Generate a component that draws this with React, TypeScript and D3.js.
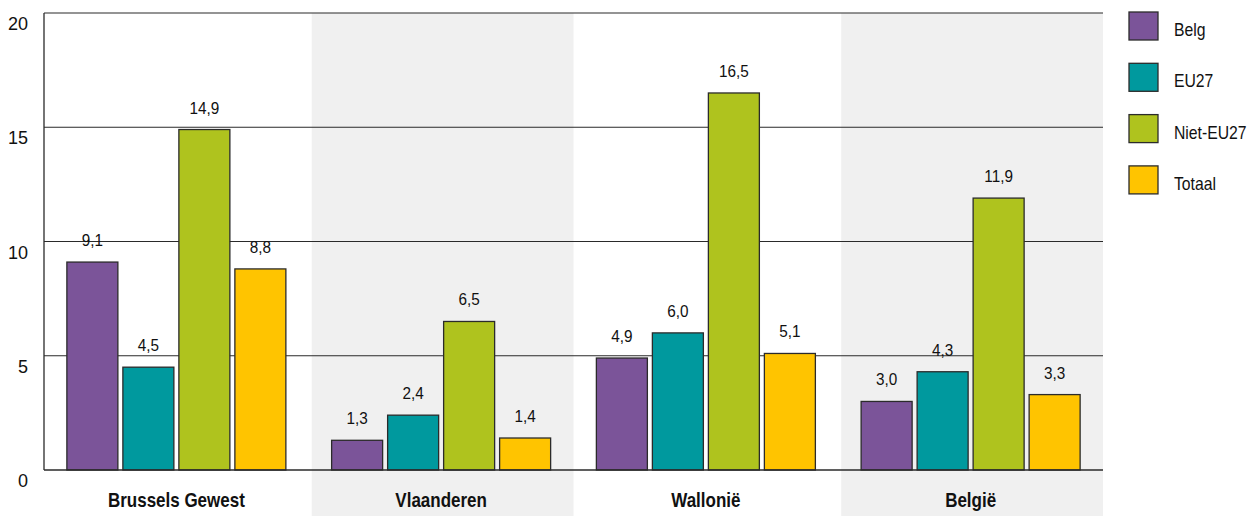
import React from "react";
import * as d3 from "d3";

const categories = ["Brussels Gewest", "Vlaanderen", "Wallonië", "België"];
const seriesNames = ["Belg", "EU27", "Niet-EU27", "Totaal"];
const belg = [9.1, 1.3, 4.9, 3.0];
const eu27 = [4.5, 2.4, 6.0, 4.3];
const nietEu27 = [14.9, 6.5, 16.5, 11.9];
const totaal = [8.8, 1.4, 5.1, 3.3];
const yTicks = [0, 5, 10, 15, 20];
const colors = ["#7B5499", "#00999E", "#AFC31E", "#FFC400"];

const seriesValues = [belg, eu27, nietEu27, totaal];

const W = 1254;
const H = 516;
const left = 44;
const right = 1103;
const top = 13;
const bottom = 470;

const FONT = "'Liberation Sans', Arial, sans-serif";

export default function App() {
  const x0 = d3.scaleBand<string>().domain(categories).range([left, right]).paddingInner(0).paddingOuter(0);
  const x1 = d3
    .scaleBand<string>()
    .domain(seriesNames)
    .range([0, x0.bandwidth()])
    .paddingInner(5 / 56)
    .paddingOuter(0.4085);
  const y = d3.scaleLinear().domain([0, 20]).range([bottom, top]);
  const fmt = (v: number) => d3.format(".1f")(v).replace(".", ",");

  return (
    <svg
      width={W}
      height={H}
      style={{ position: "absolute", left: 0, top: 0, background: "#fff" }}
    >
      {/* shaded bands */}
      {categories.map((c, i) =>
        i % 2 === 1 ? (
          <rect
            key={"band" + c}
            x={(x0(c) as number) + 3}
            y={top}
            width={x0.bandwidth() - 3}
            height={H - top}
            fill="#F0F0F0"
          />
        ) : null
      )}
      {/* gridlines */}
      {yTicks
        .filter((t) => t > 0)
        .map((t) => (
          <line key={"g" + t} x1={left} x2={right} y1={y(t)} y2={y(t)} stroke="#2a2a2a" strokeWidth={1.2} />
        ))}
      {/* y tick labels */}
      {yTicks.map((t) => (
        <text
          key={"yt" + t}
          x={28}
          y={y(t) + 17}
          textAnchor="end"
          fontFamily={FONT}
          fontSize={18}
          fill="#111"
        >
          {t}
        </text>
      ))}
      {/* bars */}
      {categories.map((c, ci) => (
        <g key={"grp" + c} transform={`translate(${x0(c)},0)`}>
          {seriesNames.map((s, si) => {
            const v = seriesValues[si][ci];
            const bx = x1(s) as number;
            return (
              <g key={s}>
                <rect
                  x={bx}
                  y={y(v)}
                  width={x1.bandwidth()}
                  height={bottom - y(v)}
                  fill={colors[si]}
                  stroke="#2b2b2b"
                  strokeWidth={1.3}
                />
                <g transform={`translate(${bx + x1.bandwidth() / 2},${y(v) - 16}) scale(0.9,1)`}>
                  <text textAnchor="middle" fontFamily={FONT} fontSize={17} fill="#111">
                    {fmt(v)}
                  </text>
                </g>
              </g>
            );
          })}
        </g>
      ))}
      {/* axes */}
      <line x1={left} x2={left} y1={top} y2={bottom} stroke="#2a2a2a" strokeWidth={1.3} />
      <line x1={left} x2={right} y1={bottom} y2={bottom} stroke="#2a2a2a" strokeWidth={1.6} />
      {/* category labels */}
      {categories.map((c) => (
        <g
          key={"cl" + c}
          transform={`translate(${(x0(c) as number) + x0.bandwidth() / 2},507) scale(0.85,1)`}
        >
          <text textAnchor="middle" fontFamily={FONT} fontWeight="bold" fontSize={20} fill="#111">
            {c}
          </text>
        </g>
      ))}
      {/* legend */}
      {seriesNames.map((s, i) => (
        <g key={"lg" + s} transform={`translate(1129,${12 + i * 51.3})`}>
          <rect x={0} y={0} width={29} height={28} fill={colors[i]} stroke="#2b2b2b" strokeWidth={1.3} />
          <g transform="translate(45,24) scale(0.9,1)">
            <text x={0} y={0} fontFamily={FONT} fontSize={17.5} fill="#111">
              {s}
            </text>
          </g>
        </g>
      ))}
    </svg>
  );
}
